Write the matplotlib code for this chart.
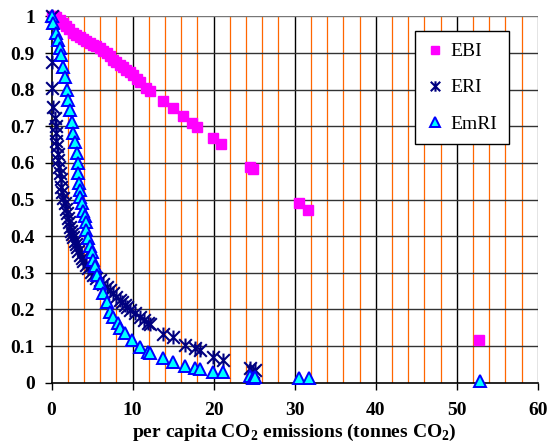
import matplotlib.pyplot as plt
from matplotlib.path import Path

plt.rcParams['font.family'] = ['Liberation Serif', 'DejaVu Serif']
plt.rcParams['mathtext.fontset'] = 'custom'
plt.rcParams['mathtext.rm'] = 'Liberation Serif'
plt.rcParams['mathtext.bf'] = 'Liberation Serif:bold'

# per capita CO2 emissions (tonnes) and index values
ebi_x = [0, 0.3, 0.6, 1.0, 1.4, 1.8, 2.2, 2.6, 3.0, 3.5, 3.9, 4.3, 4.7, 5.1, 5.5,
         6.0, 6.4, 6.8, 7.2, 7.6, 8.0, 8.4, 8.8, 9.2, 9.7, 10.1, 10.5, 10.9, 11.7,
         12.1, 13.8, 15.0, 16.2, 17.3, 17.9, 19.9, 20.9, 24.5, 24.9, 30.5, 31.6, 52.7]
ebi_y = [1.0, 1.0, 0.998, 0.991, 0.982, 0.974, 0.965, 0.956, 0.950, 0.945, 0.938,
         0.932, 0.927, 0.923, 0.918, 0.913, 0.906, 0.900, 0.891, 0.882, 0.875, 0.868,
         0.861, 0.854, 0.848, 0.841, 0.830, 0.822, 0.806, 0.797, 0.768, 0.750, 0.727,
         0.709, 0.698, 0.669, 0.652, 0.590, 0.584, 0.492, 0.471, 0.116]

eri_x = [0, 0.05, 0.05, 0.2, 0.4, 0.5, 0.6, 0.6, 0.65, 0.75, 0.82, 0.9, 1.0, 1.1,
         1.2, 1.3, 1.45, 1.6, 1.75, 1.85, 2.0, 2.1, 2.25, 2.4, 2.55, 2.7, 2.85, 3.0,
         3.1, 3.3, 3.5, 3.7, 3.9, 4.2, 4.5, 4.8, 5.1, 5.5, 6.0, 6.4, 6.8, 7.2, 7.6,
         8.0, 8.4, 8.7, 9.0, 9.3, 9.7, 10.3, 10.9, 11.4, 11.9, 12.1, 13.7, 15.0,
         16.4, 17.7, 18.3, 19.9, 21.2, 24.5, 25.1, 24.8]
eri_y = [1.0, 0.877, 0.805, 0.754, 0.722, 0.700, 0.681, 0.660, 0.645, 0.625, 0.608,
         0.590, 0.572, 0.555, 0.535, 0.520, 0.505, 0.490, 0.475, 0.463, 0.450, 0.440,
         0.426, 0.415, 0.405, 0.398, 0.388, 0.378, 0.370, 0.360, 0.349, 0.340, 0.331,
         0.322, 0.313, 0.303, 0.294, 0.287, 0.280, 0.270, 0.262, 0.253, 0.244, 0.235,
         0.226, 0.219, 0.212, 0.206, 0.199, 0.190, 0.180, 0.171, 0.162, 0.160, 0.133,
         0.124, 0.103, 0.094, 0.089, 0.071, 0.062, 0.039, 0.035, 0.030]

emri_x = [0, 0.2, 0.6, 0.8, 1.0, 1.2, 1.43, 1.64, 1.85, 2.05, 2.26, 2.47, 2.67, 2.87,
          3.08, 3.28, 3.28, 3.35, 3.49, 3.49, 3.7, 3.9, 4.1, 4.23, 4.23, 4.5, 4.72,
          4.93, 5.13, 5.34, 5.55, 5.96, 6.36, 6.78, 7.19, 7.6, 8.2, 8.4, 9.04, 9.86,
          10.9, 11.9, 12.1, 13.7, 15.0, 16.4, 17.7, 18.3, 19.9, 21.2, 24.5, 24.8,
          25.1, 30.5, 31.8, 52.9]
emri_y = [1.0, 0.982, 0.955, 0.936, 0.914, 0.895, 0.863, 0.836, 0.800, 0.772, 0.745,
          0.713, 0.681, 0.658, 0.627, 0.599, 0.572, 0.545, 0.527, 0.508, 0.490, 0.470,
          0.455, 0.440, 0.417, 0.395, 0.372, 0.358, 0.335, 0.319, 0.294, 0.272, 0.244,
          0.221, 0.194, 0.180, 0.162, 0.149, 0.135, 0.117, 0.098, 0.085, 0.080, 0.067,
          0.056, 0.046, 0.041, 0.037, 0.030, 0.030, 0.018, 0.014, 0.016, 0.014, 0.014,
          0.005]

# asterisk made of an X and a vertical stroke
star = Path([(-1, -1), (1, 1), (-1, 1), (1, -1), (0, -1.1), (0, 1.1)],
            [Path.MOVETO, Path.LINETO] * 3)

fig = plt.figure(figsize=(5.55, 4.45), dpi=100)
ax = fig.add_axes([0.093, 0.140, 0.876, 0.823])

# grid: orange every 2 tonnes, dark lines every 10 and every 0.1
for gx in range(2, 60, 2):
    if gx % 10:
        ax.axvline(gx, color='#FF6600', lw=0.9, zorder=0)
for gx in range(10, 61, 10):
    ax.axvline(gx, color='black' if gx < 60 else '#777777', lw=1.0, zorder=0)
for gy in range(1, 11):
    ax.axhline(gy / 10, color='#333333' if gy < 10 else '#777777', lw=1.0, zorder=0)

ax.plot(ebi_x, ebi_y, ls='none', marker='s', ms=7, mfc='#FF00FF', mec='#FF00FF',
        label='EBI', clip_on=False, zorder=3)
ax.plot(eri_x, eri_y, ls='none', marker=star, ms=10, mfc='none', mec='#000080', mew=1.5,
        label='ERI', clip_on=False, zorder=4)
ax.plot(emri_x, emri_y, ls='none', marker='^', ms=9, mfc='#00FFFF', mec='#0000FF',
        mew=1.4, label='EmRI', clip_on=False, zorder=5)

ax.set_xlim(0, 60)
ax.set_ylim(0, 1)
ax.set_xticks(range(0, 61, 10))
ax.set_yticks([i / 10 for i in range(11)])
ax.set_xticklabels([str(v) for v in range(0, 61, 10)], fontsize=14, fontweight='bold')
ax.set_yticklabels(['0', '0.1', '0.2', '0.3', '0.4', '0.5', '0.6', '0.7', '0.8', '0.9', '1'],
                   fontsize=14, fontweight='bold')
ax.tick_params(axis='y', length=5, width=1, direction='out', pad=7)
ax.tick_params(axis='x', length=5, width=1, direction='out', pad=9)

for side in ('top', 'right'):
    ax.spines[side].set_visible(False)
ax.spines['left'].set_linewidth(1.2)
ax.spines['bottom'].set_linewidth(1.2)

ax.set_xlabel(r'per capita CO$_\mathbf{2}$ emissions (tonnes CO$_\mathbf{2}$)',
              fontsize=14, fontweight='bold', labelpad=2)

leg = ax.legend(loc='upper right', bbox_to_anchor=(0.940, 0.960), borderaxespad=0,
                fancybox=False, edgecolor='black', framealpha=1, fontsize=14,
                labelspacing=0.95, handletextpad=0.4, handlelength=0.8,
                borderpad=0.6, markerscale=0.75)
leg.get_frame().set_linewidth(1.0)
leg.set_zorder(10)

fig.savefig('out.png', dpi=100)
